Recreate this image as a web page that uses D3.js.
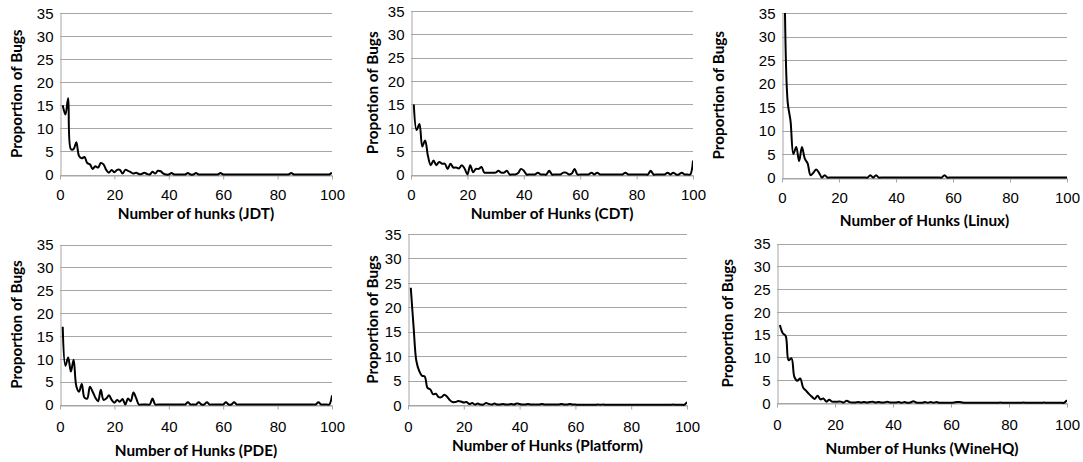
<!DOCTYPE html>
<html>
<head>
<meta charset="utf-8">
<script src="https://cdn.jsdelivr.net/npm/d3@7"></script>
<style>
  body { margin: 0; background: #fff; }
  svg { display: block; font-family: Lato, "Open Sans", sans-serif; }
  .tick text { font-size: 15px; fill: #000; }
  .title { font-size: 15.3px; font-weight: bold; fill: #000; }
  .grid line { stroke: #a6a6a6; stroke-width: 1; }
  .line { fill: none; stroke: #000; stroke-width: 2; }
</style>
</head>
<body>
<script>
// hunks 1..100
var hunks = d3.range(1, 101);
var xTicks = [0, 20, 40, 60, 80, 100];
var yTicks = [0, 5, 10, 15, 20, 25, 30, 35];

var jdt = [15, 13, 16.5, 5.5, 5.5, 7, 4, 3.5, 3.8, 2.5,
  2.2, 1.2, 1.8, 1.5, 2.5, 2.2, 1, 0.4, 1, 0.5,
  1, 1, 0.2, 1, 0.8, 0.5, 0.2, 0.4, 0.1, 0.1,
  0.4, 0.1, 0, 0.6, 0.2, 0.8, 0.7, 0.2, 0, 0,
  0.3, 0, 0, 0, 0, 0, 0.3, 0, 0, 0.3,
  0, 0, 0, 0, 0, 0, 0, 0, 0.3, 0,
  0, 0, 0, 0, 0, 0, 0, 0, 0, 0,
  0, 0, 0, 0, 0, 0, 0, 0, 0, 0,
  0, 0, 0, 0, 0.3, 0, 0, 0, 0, 0,
  0, 0, 0, 0, 0, 0, 0, 0, 0, 0.4];

var cdt = [15, 9.5, 10.8, 6, 7.3, 4, 2, 3, 2, 2.7,
  2.3, 2.3, 1.2, 2.3, 1.5, 1.5, 1.3, 2, 1.3, 0,
  2, 0.5, 1.2, 1.2, 1.6, 0.4, 0.4, 0.4, 0.4, 0.4,
  0.8, 0.4, 0.4, 0.8, 0, 0, 0, 0.3, 1.2, 0.8,
  0, 0, 0, 0, 0.4, 0, 0, 0, 0.8, 0,
  0, 0, 0, 0.4, 0.4, 0, 0.2, 1.2, 0, 0,
  0, 0, 0, 0.4, 0, 0.4, 0, 0, 0, 0,
  0, 0, 0, 0, 0, 0.4, 0, 0, 0, 0,
  0, 0, 0, 0, 0.8, 0, 0, 0, 0, 0,
  0.4, 0, 0.4, 0, 0, 0.4, 0, 0, 0, 3];

var linux = [37, 16, 12, 5, 6.5, 3.5, 6.5, 4, 3, 0.5,
  1, 1.7, 1, 0, 0.5, 0, 0, 0, 0, 0,
  0, 0, 0, 0, 0, 0, 0, 0, 0, 0,
  0.5, 0, 0.5, 0, 0, 0, 0, 0, 0, 0,
  0, 0, 0, 0, 0, 0, 0, 0, 0, 0,
  0, 0, 0, 0, 0, 0, 0.5, 0, 0, 0,
  0, 0, 0, 0, 0, 0, 0, 0, 0, 0,
  0, 0, 0, 0, 0, 0, 0, 0, 0, 0,
  0, 0, 0, 0, 0, 0, 0, 0, 0, 0,
  0, 0, 0, 0, 0, 0, 0, 0, 0, 0];

var pde = [17, 8.5, 10.3, 7.2, 9.8, 4, 2.8, 4.5, 1.5, 1.3,
  3.9, 2.8, 1.5, 0.7, 3.2, 1, 1.3, 2, 1, 0.4,
  1, 0.6, 1.2, 0, 1.3, 0.7, 2.6, 1.4, 0, 0,
  0, 0, 0, 1.3, 0, 0, 0, 0, 0, 0,
  0, 0, 0, 0, 0, 0, 0.5, 0, 0, 0,
  0.5, 0, 0, 0.5, 0, 0, 0, 0, 0, 0,
  0.5, 0, 0, 0.5, 0, 0, 0, 0, 0, 0,
  0, 0, 0, 0, 0, 0, 0, 0, 0, 0,
  0, 0, 0, 0, 0, 0, 0, 0, 0, 0,
  0, 0, 0, 0, 0.5, 0, 0, 0, 0, 2];

var platform = [24, 16, 9, 7, 6, 5.8, 3.5, 3.2, 2.2, 2.3,
  1.6, 1.6, 2.1, 1.7, 1, 0.6, 0.6, 0.8, 0.7, 0.5,
  0.6, 0.2, 0.4, 0.1, 0.3, 0.1, 0.1, 0.4, 0.2, 0.1,
  0.3, 0.1, 0.1, 0.2, 0.1, 0.1, 0.2, 0.1, 0.3, 0.2,
  0.1, 0.1, 0.2, 0.1, 0.1, 0.1, 0.1, 0.2, 0.1, 0.1,
  0.1, 0.1, 0.1, 0.1, 0.2, 0.1, 0.1, 0.2, 0.1, 0.1,
  0.05, 0.05, 0.05, 0.05, 0.05, 0.05, 0.05, 0.1, 0.05, 0.1,
  0.05, 0.05, 0.05, 0.05, 0.05, 0.05, 0.05, 0.05, 0.05, 0.05,
  0.05, 0.05, 0.05, 0.05, 0.05, 0.05, 0.05, 0.05, 0.05, 0.05,
  0.05, 0.05, 0.05, 0.05, 0.1, 0.05, 0.05, 0.05, 0.05, 0.6];

var winehq = [17.1, 15.3, 14.7, 9.4, 9.8, 5.7, 4.9, 5.4, 3.4, 2.7,
  2, 1.4, 0.9, 1.6, 0.8, 1, 0.3, 0.7, 0.3, 0.3,
  0.3, 0.3, 0.1, 0.5, 0.2, 0.1, 0.1, 0.2, 0.1, 0.2,
  0.1, 0.2, 0.3, 0.1, 0.2, 0.1, 0.1, 0.3, 0.1, 0.1,
  0.1, 0.2, 0.05, 0.2, 0.05, 0.1, 0.4, 0.1, 0.05, 0.05,
  0.2, 0.05, 0.2, 0.05, 0.2, 0.05, 0.05, 0.05, 0.05, 0.05,
  0.1, 0.2, 0.2, 0.1, 0.05, 0.05, 0.05, 0.05, 0.05, 0.05,
  0.05, 0.05, 0.05, 0.05, 0.05, 0.05, 0.1, 0.05, 0.05, 0.05,
  0.05, 0.05, 0.05, 0.05, 0.1, 0.05, 0.05, 0.05, 0.05, 0.05,
  0.05, 0.1, 0.05, 0.05, 0.05, 0.05, 0.05, 0.05, 0.05, 0.6];

var xTitles = ["Number of hunks (JDT)", "Number of Hunks (CDT)", "Number of Hunks (Linux)",
  "Number of Hunks (PDE)", "Number of Hunks (Platform)", "Number of Hunks (WineHQ)"];
var yTitles = ["Proportion of Bugs", "Propotion of Bugs", "Proportion of Bugs",
  "Proportion of Bugs", "Proportion of Bugs", "Proportion of Bugs"];
var series = [jdt, cdt, linux, pde, platform, winehq];

// plot boxes: left, right, top (35), bottom (0), y-title x, x-tick y, x-title y
var boxes = [
  {l: 60, r: 332, t: 13, b: 174.5, ty: 16, tk: 194, tt: 213},
  {l: 411, r: 693, t: 11, b: 174.5, ty: 372, tk: 194, tt: 213},
  {l: 782, r: 1067, t: 13, b: 177.5, ty: 718, tk: 197, tt: 220},
  {l: 60, r: 332, t: 244.5, b: 404.5, ty: 16, tk: 426, tt: 450},
  {l: 408, r: 687, t: 234, b: 405, ty: 372, tk: 426, tt: 445},
  {l: 777, r: 1067, t: 243.5, b: 403, ty: 727, tk: 424, tt: 448}
];

var svg = d3.select("body").append("svg")
    .attr("width", 1083)
    .attr("height", 462);

boxes.forEach(function(bx, i) {
  var x = d3.scaleLinear().domain([0, 100]).range([bx.l, bx.r]);
  var y = d3.scaleLinear().domain([0, 35]).range([bx.b, bx.t]);
  var g = svg.append("g");

  // horizontal gridlines
  g.append("g")
    .attr("class", "grid")
    .selectAll("line").data(yTicks)
    .enter().append("line")
      .attr("x1", bx.l).attr("x2", bx.r)
      .attr("y1", function(d) { return Math.round(y(d)) + 0.5; })
      .attr("y2", function(d) { return Math.round(y(d)) + 0.5; });

  // y axis
  var ya = g.append("g")
    .attr("transform", "translate(" + (Math.round(bx.l) + 0.5) + ",0)")
    .call(d3.axisLeft(y).tickValues(yTicks).tickSize(0).tickPadding(7));
  ya.select(".domain").attr("stroke", "#a6a6a6");
  ya.selectAll("text").attr("dy", "0.35em");

  // x axis
  var xa = g.append("g")
    .attr("transform", "translate(0," + (Math.round(bx.b) + 0.5) + ")")
    .call(d3.axisBottom(x).tickValues(xTicks).tickSize(4).tickSizeOuter(0).tickPadding(6));
  xa.select(".domain").attr("stroke", "#a6a6a6");
  xa.selectAll(".tick line").attr("stroke", "#a6a6a6");
  xa.selectAll("text").attr("dy", null)
    .attr("y", bx.tk - Math.round(bx.b))
    .attr("dominant-baseline", "central");

  // clip so the Linux line stops at the top of the plot
  var clipId = "clip" + i;
  g.append("clipPath").attr("id", clipId)
    .append("rect")
      .attr("x", bx.l).attr("y", bx.t)
      .attr("width", bx.r - bx.l).attr("height", bx.b - bx.t + 6);

  var line = d3.line()
      .x(function(d, j) { return x(hunks[j]); })
      .y(function(d) { return y(d); })
      .curve(d3.curveCatmullRom);

  g.append("path")
    .datum(series[i])
    .attr("class", "line")
    .attr("clip-path", "url(#" + clipId + ")")
    .attr("d", line);

  // titles
  g.append("text")
    .attr("class", "title")
    .attr("x", (bx.l + bx.r) / 2)
    .attr("y", bx.tt)
    .attr("text-anchor", "middle")
    .attr("dominant-baseline", "central")
    .text(xTitles[i]);

  g.append("text")
    .attr("class", "title")
    .attr("transform", "translate(" + bx.ty + "," + ((bx.t + bx.b) / 2) + ") rotate(-90)")
    .attr("text-anchor", "middle")
    .attr("dominant-baseline", "central")
    .text(yTitles[i]);
});
</script>
</body>
</html>
